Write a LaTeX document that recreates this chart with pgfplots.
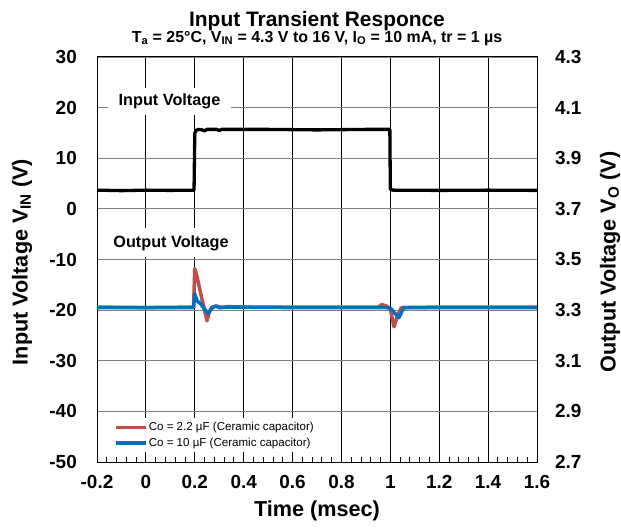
\documentclass[border=0pt]{standalone}
\usepackage{fontspec}
\setmainfont{Liberation Sans}
\usepackage{pgfplots}
\pgfplotsset{compat=1.18}
\definecolor{cred}{HTML}{C0504D}
\definecolor{cblue}{HTML}{0070C0}
\begin{document}
\begin{tikzpicture}
\useasboundingbox (-97bp,-67bp) rectangle (524bp,462bp);
\begin{axis}[
  at={(0,0)}, anchor=south west,
  scale only axis, width=440bp, height=405bp,
  xmin=-0.2, xmax=1.6, ymin=-50, ymax=30,
  xtick={-0.2,0,0.2,0.4,0.6,0.8,1,1.2,1.4,1.6},
  xticklabels={-0.2,0,0.2,0.4,0.6,0.8,1,1.2,1.4,1.6},
  ytick={-50,-40,-30,-20,-10,0,10,20,30},
  yticklabels={-50,-40,-30,-20,-10,0,10,20,30},
  minor x tick num=4,
  xmajorgrids, ymajorgrids,
  major x grid style={black, line width=0.8bp},
  major y grid style={black!50, line width=0.8bp},
  axis line style={black, line width=1bp},
  tick pos=left,
  major tick length=0pt,
  minor tick length=5bp,
  minor tick style={black, line width=0.8bp},
  tick label style={font=\fontsize{19}{22}\selectfont\bfseries, inner sep=0pt},
  xticklabel style={anchor=north, yshift=-13bp},
  yticklabel style={anchor=east, xshift=-20bp},
  clip=false,
  legend style={at={(rel axis cs:0.007,0.024)}, anchor=south west, draw=none, fill=white,
    font=\fontsize{11.6}{13}\selectfont, row sep=4bp, inner xsep=14bp, inner ysep=3bp,
    nodes={inner sep=1bp}},
  legend cell align=left,
  legend image code/.code={\draw[#1] (0bp,0bp) -- (30bp,0bp);},
]
\addplot[black, line width=3.3bp, line join=round, forget plot] coordinates {
(-0.2,3.7) (-0.1,3.6) (0,3.7) (0.1,3.65) (0.197,3.7) (0.2,14.9) (0.205,15.5) (0.215,15.7)
(0.23,15.6) (0.24,15.4) (0.25,15.7) (0.29,15.7) (0.3,15.5) (0.31,15.7) (0.5,15.7)
(0.7,15.6) (0.9,15.7) (0.998,15.7) (1.0,3.9) (1.01,3.7) (1.2,3.65) (1.4,3.7) (1.6,3.65)
};
\addplot[cred, line width=3.5bp, line join=round] coordinates {
(-0.2,-19.4) (0.0,-19.5) (0.195,-19.4) (0.2,-11.8) (0.21,-13.5) (0.23,-18) (0.25,-22.1)
(0.26,-20.3) (0.27,-19.4) (0.29,-19.2) (0.31,-19.5) (0.33,-19.3) (0.4,-19.4) (0.6,-19.4)
(0.8,-19.4) (0.95,-19.4) (0.965,-18.9) (0.985,-19.2) (1.0,-19.8) (1.015,-23.3) (1.03,-21)
(1.045,-19.5) (1.2,-19.4) (1.6,-19.4)
};
\addlegendentry{Co = 2.2 µF (Ceramic capacitor)}
\addplot[cblue, line width=3.5bp, line join=round] coordinates {
(-0.2,-19.5) (0.195,-19.5) (0.2,-16.8) (0.21,-18.2) (0.225,-18.8) (0.24,-19.8) (0.255,-20.7)
(0.27,-19.6) (0.285,-19.2) (0.3,-19.5) (0.35,-19.4) (0.6,-19.5) (0.98,-19.5) (1.0,-19.6)
(1.035,-21.5) (1.055,-19.5) (1.6,-19.5)
};
\addlegendentry{Co = 10 µF (Ceramic capacitor)}
\node[fill=white, minimum width=123bp, minimum height=27bp, inner sep=0pt,
  font=\fontsize{16.3}{18}\selectfont\bfseries] at (axis cs:0.0966,21.2) {Input Voltage};
\node[fill=white, minimum width=138bp, minimum height=29bp, inner sep=0pt,
  font=\fontsize{16.3}{18}\selectfont\bfseries] at (axis cs:0.1027,-6.74) {Output Voltage};
\end{axis}
\begin{axis}[
  at={(0,0)}, anchor=south west,
  scale only axis, width=440bp, height=405bp,
  xmin=-0.2, xmax=1.6, ymin=2.7, ymax=4.3,
  axis y line*=right, axis x line=none,
  ytick={2.7,2.9,3.1,3.3,3.5,3.7,3.9,4.1,4.3},
  yticklabels={2.7,2.9,3.1,3.3,3.5,3.7,3.9,4.1,4.3},
  major tick length=0pt,
  axis line style={black, line width=1bp},
  tick label style={font=\fontsize{19}{22}\selectfont\bfseries, inner sep=0pt},
  yticklabel style={anchor=west, xshift=18bp},
]
\addplot[draw=none] coordinates {(0,3)};
\end{axis}
\node[anchor=base, font=\fontsize{21}{24}\selectfont\bfseries] at (220bp,435.3bp) {Input Transient Responce};
\node[anchor=base, font=\fontsize{16}{18}\selectfont\bfseries] at (220bp,419.7bp)
  {T\textsubscript{a} = 25°C, V\textsubscript{IN} = 4.3 V to 16 V, I\textsubscript{O} = 10 mA, tr = 1 µs};
\node[anchor=base, font=\fontsize{21.7}{24}\selectfont\bfseries] at (220bp,-54.7bp) {Time (msec)};
\node[rotate=90, font=\fontsize{21.7}{24}\selectfont\bfseries] at (-75bp,200bp) {Input Voltage V\textsubscript{IN} (V)};
\node[rotate=90, font=\fontsize{21.7}{24}\selectfont\bfseries] at (513bp,200bp) {Output Voltage V\textsubscript{O} (V)};
\end{tikzpicture}
\end{document}
